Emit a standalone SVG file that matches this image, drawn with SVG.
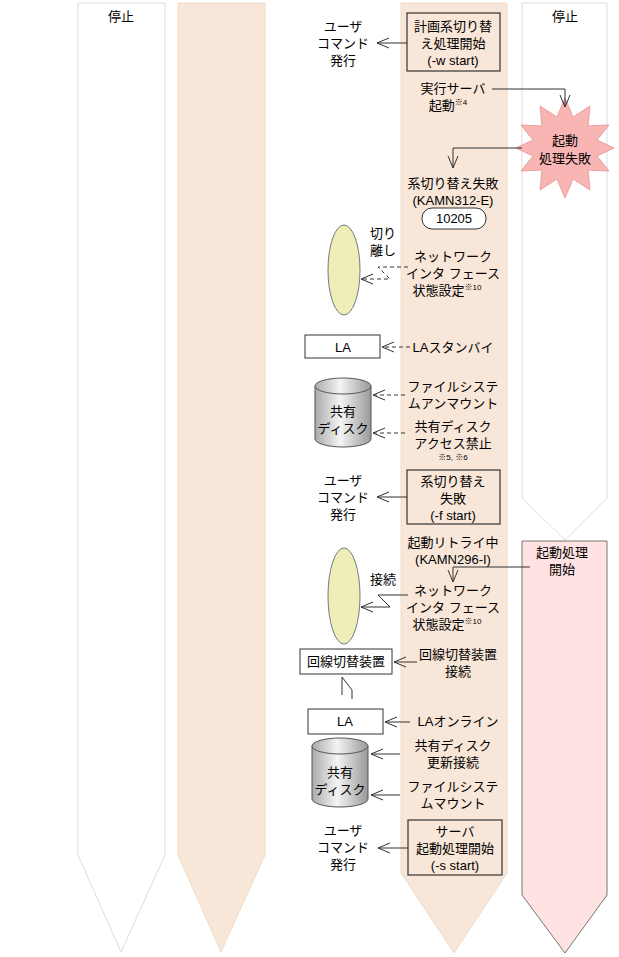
<svg xmlns="http://www.w3.org/2000/svg" width="619" height="957" viewBox="0 0 619 957">
<style>
text{font-family:"Liberation Sans","Noto Sans CJK JP",sans-serif;font-size:13px;fill:#000;text-anchor:middle}
.sm{font-size:8px}
.box{fill:none;stroke:#333;stroke-width:1.2}
.wb{fill:#fff;stroke:#333;stroke-width:1}
.ln{fill:none;stroke:#333;stroke-width:1}
.ds{fill:none;stroke:#333;stroke-width:1;stroke-dasharray:4,3}
.ah{fill:none;stroke:#333;stroke-width:1}
.ell{fill:#eeeeb8;stroke:#777}
.cyl{fill:url(#g);stroke:#555}
</style>
<defs>
<linearGradient id="g" x1="0" x2="1"><stop offset="0" stop-color="#aaa"/><stop offset="0.45" stop-color="#f4f4f4"/><stop offset="1" stop-color="#999"/></linearGradient>
<marker id="a" markerWidth="14" markerHeight="12" refX="13" refY="6" orient="auto" markerUnits="userSpaceOnUse"><path d="M1,1 L13,6 L1,11" class="ah"/></marker>
</defs>
<g id="lanes">
<path d="M78,3 H165 V855 L121,952 L78,855 Z" fill="#fff" stroke="#ddd"/>
<path d="M178,3 H265 V855 L221,952 L178,855 Z" fill="#f8e6d8" stroke="#f0dcc8"/>
<path d="M401,3 H507 V873 L454,953 L401,873 Z" fill="#f8e6d8" stroke="#f0dcc8"/>
<path d="M522,3 H607 V498 L565,540 L522,498 Z" fill="#fff" stroke="#ddd"/>
<path d="M522,541 H607 V895 L565,953 L522,895 Z" fill="#ffe2e2" stroke="#777"/>
<text x="121" y="21">停止</text>
<text x="565" y="21">停止</text>
</g>
<g id="star">
<polygon points="565,98 573,117 590,106 588,126 609,125 597,140 614,148 597,156 609,171 588,170 590,190 573,179 565,198 557,179 540,190 542,170 521,171 533,156 516,148 533,140 521,125 542,126 540,106 557,117" fill="#f9b4b4" stroke="#eaa0a0"/>
<text x="565" y="145">起動</text><text x="565" y="163">処理失敗</text>
</g>
<g id="n1"><rect x="407" y="13" width="93" height="58" class="box"/><text x="453" y="31">計画系切り替</text><text x="453" y="48">え処理開始</text><text x="453" y="65">(-w start)</text></g>
<g id="u1"><text x="343" y="31">ユーザ</text><text x="343" y="48">コマンド</text><text x="343" y="65">発行</text></g>
<g id="n2"><text x="453" y="93">実行サーバ</text><text x="448" y="110">起動<tspan class="sm" dy="-5">※4</tspan></text></g>
<g id="n3"><text x="453" y="188">系切り替え失敗</text><text x="453" y="205">(KAMN312-E)</text><rect x="422" y="208" width="64" height="21" rx="10" class="wb" stroke="#aaa"/><text x="454" y="223">10205</text></g>
<g id="e1"><ellipse cx="344" cy="270" rx="16" ry="45" class="ell"/></g>
<g id="t1"><text x="383" y="238">切り</text><text x="383" y="255">離し</text></g>
<g id="n4"><text x="453" y="261">ネットワーク</text><text x="453" y="278">インタ フェース</text><text x="447" y="295">状態設定<tspan class="sm" dy="-5">※10</tspan></text></g>
<g id="la1"><rect x="305" y="335" width="75" height="23" class="wb"/><text x="343" y="352">LA</text></g>
<g id="n5"><text x="453" y="352">LAスタンバイ</text></g>
<g id="d1"><path d="M315,386 V439 A28,8 0 0 0 371,439 V386" class="cyl"/><ellipse cx="343" cy="386" rx="28" ry="8" class="cyl"/><text x="343" y="416">共有</text><text x="343" y="433">ディスク</text></g>
<g id="n6"><text x="453" y="391">ファイルシステ</text><text x="453" y="408">ムアンマウント</text></g>
<g id="n7"><text x="453" y="431">共有ディスク</text><text x="453" y="448">アクセス禁止</text><text x="453" y="460" class="sm">※5, ※6</text></g>
<g id="n8"><rect x="407" y="470" width="93" height="54" class="box"/><text x="453" y="486">系切り替え</text><text x="453" y="503">失敗</text><text x="453" y="520">(-f start)</text></g>
<g id="u2"><text x="343" y="485">ユーザ</text><text x="343" y="502">コマンド</text><text x="343" y="519">発行</text></g>
<g id="n9"><text x="453" y="547">起動リトライ中</text><text x="453" y="564">(KAMN296-I)</text></g>
<g id="n10"><text x="562" y="557">起動処理</text><text x="562" y="574">開始</text></g>
<g id="e2"><ellipse cx="344" cy="596" rx="16" ry="48" class="ell"/></g>
<g id="t2"><text x="383" y="584">接続</text></g>
<g id="n11"><text x="453" y="595">ネットワーク</text><text x="453" y="612">インタ フェース</text><text x="447" y="629">状態設定<tspan class="sm" dy="-5">※10</tspan></text></g>
<g id="sw"><rect x="300" y="649" width="92" height="25" class="wb"/><text x="346" y="666">回線切替装置</text></g>
<g id="n12"><text x="458" y="659">回線切替装置</text><text x="458" y="676">接続</text></g>
<g id="la2"><rect x="308" y="709" width="75" height="25" class="wb"/><text x="345" y="726">LA</text></g>
<g id="n13"><text x="458" y="726">LAオンライン</text></g>
<g id="d2"><path d="M312,746 V799 A28,8 0 0 0 368,799 V746" class="cyl"/><ellipse cx="340" cy="746" rx="28" ry="8" class="cyl"/><text x="340" y="777">共有</text><text x="340" y="794">ディスク</text></g>
<g id="n14"><text x="453" y="750">共有ディスク</text><text x="453" y="767">更新接続</text></g>
<g id="n15"><text x="453" y="791">ファイルシステ</text><text x="453" y="808">ムマウント</text></g>
<g id="n16"><rect x="408" y="820" width="94" height="55" class="box"/><text x="455" y="836">サーバ</text><text x="455" y="853">起動処理開始</text><text x="455" y="870">(-s start)</text></g>
<g id="u3"><text x="343" y="835">ユーザ</text><text x="343" y="852">コマンド</text><text x="343" y="869">発行</text></g>
<g id="connectors">
<path d="M407,43 H377" class="ln" marker-end="url(#a)"/>
<path d="M492,89 H565 V107" class="ln" marker-end="url(#a)"/>
<path d="M522,148 H453 V168" class="ln" marker-end="url(#a)"/>
<path d="M408,267 H378 L390,279 H361" class="ds" marker-end="url(#a)"/>
<path d="M410,347 H382" class="ds" marker-end="url(#a)"/>
<path d="M405,395 H373" class="ds" marker-end="url(#a)"/>
<path d="M405,433 H373" class="ds" marker-end="url(#a)"/>
<path d="M407,497 H377" class="ln" marker-end="url(#a)"/>
<path d="M530,567 H453 V582" class="ln" marker-end="url(#a)"/>
<path d="M408,595 H378 L390,607 H361" class="ln" marker-end="url(#a)"/>
<path d="M417,662 H394" class="ln" marker-end="url(#a)"/>
<path d="M342,695 V677 L352,690 V699" class="ln"/>
<path d="M410,722 H385" class="ln" marker-end="url(#a)"/>
<path d="M400,754 H371" class="ln" marker-end="url(#a)"/>
<path d="M400,795 H371" class="ln" marker-end="url(#a)"/>
<path d="M408,848 H378" class="ln" marker-end="url(#a)"/>
</g>
</svg>
